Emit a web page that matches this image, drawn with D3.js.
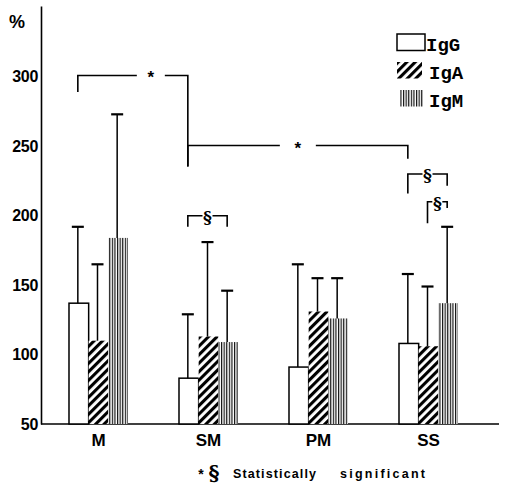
<!DOCTYPE html>
<html><head><meta charset="utf-8">
<script src="https://cdn.jsdelivr.net/npm/d3@7"></script>
<style>body{margin:0;background:#fff}</style>
</head><body>
<svg id="c" width="506" height="487"></svg>
<script>
// ---- data ----
const categories = ["M", "SM", "PM", "SS"];
const seriesNames = ["IgG", "IgA", "IgM"];
const meanIgG = [137, 83, 91, 108];
const meanIgA = [110, 113, 131, 106];
const meanIgM = [184, 109, 126, 137];
const sdTopIgG = [192, 129, 165, 158];
const sdTopIgA = [165, 181, 155, 149];
const sdTopIgM = [273, 146, 155, 192];
const yTicks = [50, 100, 150, 200, 250, 300];
// significance brackets: endpoints (category, series), level and tick ends in % units
const bracketFrom = [["M", "IgG"], ["SM", "IgG"], ["SM", "IgG"], ["SS", "IgG"], ["SS", "IgA"]];
const bracketTo   = [["SM", "IgG"], ["SS", "IgG"], ["SM", "IgM"], ["SS", "IgM"], ["SS", "IgM"]];
const bracketLevel = [301, 250.5, 200, 230, 210];
const bracketLeftEnd = [289, 235.5, 192, 216, 194.5];
const bracketRightEnd = [235.5, 241, 192, 221.5, 205.5];
const bracketLabel = ["*", "*", "§", "§", "§"];
const footnote = ["*", "§", "Statistically", "significant"];

const means = [meanIgG, meanIgA, meanIgM];
const tops = [sdTopIgG, sdTopIgA, sdTopIgM];

const svg = d3.select("#c");
const x = d3.scaleBand().domain(categories).range([41, 486]).paddingInner(0.4636).paddingOuter(0.2545);
const xs = d3.scaleBand().domain(seriesNames).range([0, x.bandwidth()]);
const y = d3.scaleLinear().domain([50, 351]).range([424, 6]);

// ---- patterns ----
const defs = svg.append("defs");
const pA = defs.append("pattern").attr("id", "hatchA").attr("patternUnits", "userSpaceOnUse")
  .attr("width", 6).attr("height", 6).attr("patternTransform", "rotate(45)");
pA.append("rect").attr("width", 6).attr("height", 6).attr("fill", "#fff");
pA.append("line").attr("x1", 1.5).attr("x2", 1.5).attr("y1", 0).attr("y2", 6)
  .attr("stroke", "#000").attr("stroke-width", 3.2);
const pM = defs.append("pattern").attr("id", "hatchM").attr("patternUnits", "userSpaceOnUse")
  .attr("width", 2.6).attr("height", 10);
pM.append("rect").attr("width", 2.6).attr("height", 10).attr("fill", "#fff");
pM.append("line").attr("x1", 0.6).attr("x2", 0.6).attr("y1", 0).attr("y2", 10)
  .attr("stroke", "#000").attr("stroke-width", 1.1);
const fills = ["#fff", "url(#hatchA)", "url(#hatchM)"];

// ---- axes ----
const yAxis = svg.append("g").attr("transform", "translate(41,0)")
  .call(d3.axisLeft(y).tickValues(yTicks).tickSize(0).tickPadding(3));
yAxis.select(".domain").attr("stroke", "#000").attr("stroke-width", 1.6);
yAxis.selectAll("text").attr("font-family", "Liberation Sans, Arial, sans-serif")
  .attr("font-weight", "bold").attr("font-size", 16).attr("fill", "#000").attr("letter-spacing", -0.3);

const xAxis = svg.append("g").attr("transform", "translate(0,424)")
  .call(d3.axisBottom(x).tickSize(0).tickPadding(9.5));
xAxis.select(".domain").remove();
xAxis.selectAll("text").attr("font-family", "Liberation Sans, Arial, sans-serif")
  .attr("font-weight", "bold").attr("font-size", 17).attr("fill", "#000");
svg.append("line").attr("x1", 41).attr("x2", 499).attr("y1", y(50)).attr("y2", y(50))
  .attr("stroke", "#000").attr("stroke-width", 1.4);

svg.append("text").attr("x", 17).attr("y", 28).attr("text-anchor", "middle")
  .attr("font-family", "Liberation Sans, Arial, sans-serif").attr("font-weight", "bold")
  .attr("font-size", 18).text("%");

// ---- bars ----
seriesNames.forEach((s, i) => {
  const g = svg.append("g");
  g.selectAll("rect").data(categories).join("rect")
    .attr("x", c => x(c) + xs(s))
    .attr("width", xs.bandwidth())
    .attr("y", (c, j) => y(means[i][j]))
    .attr("height", (c, j) => y(50) - y(means[i][j]))
    .attr("fill", fills[i])
    .attr("stroke", i === 0 ? "#000" : "none")
    .attr("stroke-width", 1.5);
});

// ---- error bars ----
const ex = (c, s) => x(c) + xs(s) + xs.bandwidth() / 2 - 1;
seriesNames.forEach((s, i) => {
  const g = svg.append("g").attr("stroke", "#000");
  categories.forEach((c, j) => {
    g.append("line").attr("x1", ex(c, s)).attr("x2", ex(c, s))
      .attr("y1", y(means[i][j])).attr("y2", y(tops[i][j])).attr("stroke-width", 1.5);
    g.append("line").attr("x1", ex(c, s) - 6).attr("x2", ex(c, s) + 6)
      .attr("y1", y(tops[i][j])).attr("y2", y(tops[i][j])).attr("stroke-width", 2.2);
  });
});

// ---- significance brackets ----
const bg = svg.append("g").attr("stroke", "#000").attr("fill", "none").attr("stroke-width", 1.6);
bracketLabel.forEach((lab, k) => {
  const x1 = ex(...bracketFrom[k]), x2 = ex(...bracketTo[k]);
  const yl = y(bracketLevel[k]);
  const xm = (x1 + x2) / 2 + (lab === "*" ? (k === 0 ? 18 : 0) : 0);
  const gap = lab === "*" ? (k === 0 ? 14 : 18) : 5;
  bg.append("path").attr("d", `M${x1},${y(bracketLeftEnd[k])}V${yl}H${xm - gap}`);
  bg.append("path").attr("d", `M${xm + gap},${yl}H${x2}V${y(bracketRightEnd[k])}`);
  svg.append("text").attr("x", xm).attr("y", yl + (lab === "*" ? 8 : 7))
    .attr("text-anchor", "middle")
    .attr("font-family", lab === "*" ? "Liberation Sans, Arial, sans-serif" : "DejaVu Serif, serif")
    .attr("font-weight", "bold").attr("font-size", lab === "*" ? 17 : 17).text(lab);
});

// ---- legend ----
const legY = [34, 62, 90];
const leg = svg.append("g");
seriesNames.forEach((s, i) => {
  leg.append("rect").attr("x", i === 2 ? 400 : 397).attr("y", legY[i])
    .attr("width", i === 0 ? 28 : (i === 1 ? 25 : 23)).attr("height", 16.5)
    .attr("fill", fills[i]).attr("stroke", i === 0 ? "#000" : "none").attr("stroke-width", 1.5);
  leg.append("text").attr("x", i === 0 ? 426 : 429).attr("y", legY[i] + 17)
    .attr("font-family", "Liberation Mono, Courier New, monospace").attr("font-weight", "bold")
    .attr("font-size", 19).text(s);
});

// ---- footnote ----
const fn = svg.append("g").attr("font-family", "Liberation Sans, Arial, sans-serif").attr("font-weight", "bold");
fn.append("text").attr("x", 201).attr("y", 479).attr("text-anchor", "middle").attr("font-size", 14).text(footnote[0]);
fn.append("text").attr("x", 214).attr("y", 480).attr("text-anchor", "middle")
  .attr("font-family", "DejaVu Serif, serif").attr("font-size", 21).text(footnote[1]);
fn.append("text").attr("x", 233).attr("y", 477.5).attr("font-size", 12.5)
  .attr("textLength", 83).attr("lengthAdjust", "spacing").text(footnote[2]);
fn.append("text").attr("x", 340).attr("y", 477.5).attr("font-size", 12.5)
  .attr("textLength", 85).attr("lengthAdjust", "spacing").text(footnote[3]);
</script>
</body></html>
